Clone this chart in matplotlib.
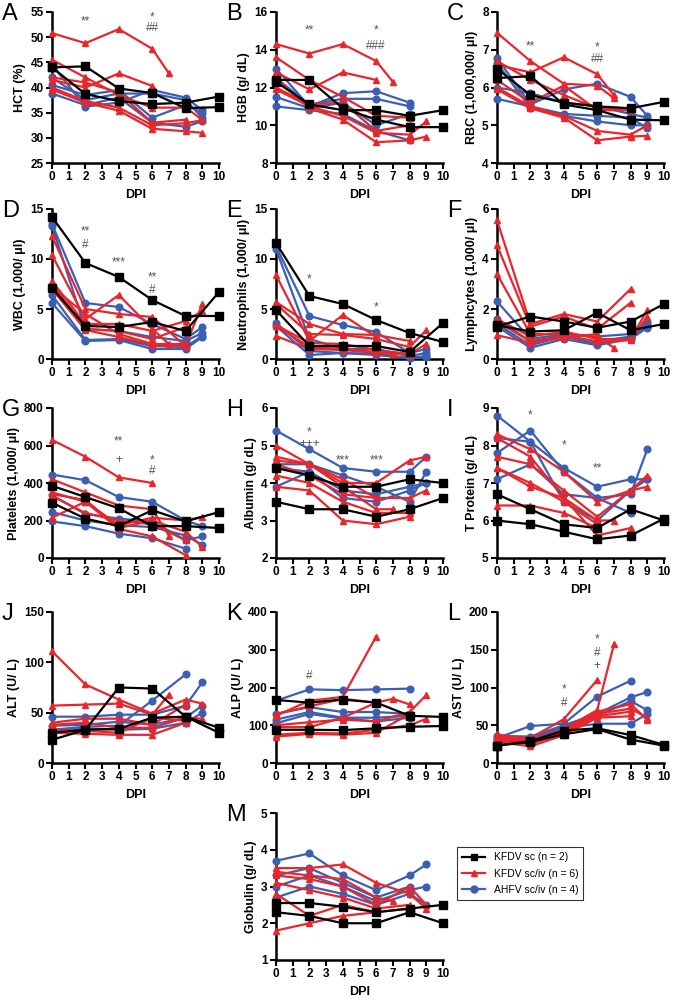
import numpy as np
import matplotlib
matplotlib.use("Agg")
import matplotlib.pyplot as plt
from matplotlib.lines import Line2D

plt.rcParams['font.family'] = ['Liberation Sans', 'DejaVu Sans']

N = np.nan
days = [0, 2, 4, 6, 7, 8, 9, 10]

# ---- A: HCT
hct_sc = [[44.0, 44.2, 39.8, 38.9, N, 35.9, N, 36.1],
          [44.0, 38.7, 37.3, 36.7, N, 37.0, N, 38.2]]
hct_sciv = [[50.8, 48.8, 51.6, 47.7, 42.8, N, N, N],
            [41.5, 40.0, 42.8, 40.3, N, N, N, N],
            [45.5, 42.0, 38.5, 36.0, N, 36.0, 33.6, N],
            [42.0, 41.0, 39.0, 33.0, N, 33.6, N, N],
            [40.0, 37.3, 36.0, 32.5, N, 32.9, 33.5, N],
            [39.6, 37.0, 35.4, 31.8, N, 31.3, 31.0, N]]
hct_ahfv = [[44.5, 36.2, 37.0, 39.5, N, 38.0, 35.5, N],
            [42.0, 37.5, 38.8, 38.8, N, 37.5, 34.0, N],
            [40.5, 38.5, 39.5, 34.0, N, 36.5, 35.0, N],
            [38.8, 36.5, 38.0, 33.0, N, 32.2, 33.3, N]]

# ---- B: HGB
hgb_sc = [[12.4, 12.4, 10.9, 10.3, N, 9.9, N, 9.9],
          [12.3, 11.1, 10.8, 10.8, N, 10.5, N, 10.8]]
hgb_sciv = [[14.3, 13.8, 14.3, 13.4, 12.3, N, N, N],
            [12.8, 11.9, 12.8, 12.4, N, N, N, N],
            [13.6, 12.4, 11.5, 10.5, N, 10.4, N, N],
            [12.0, 11.1, 11.2, 9.7, N, 10.0, N, N],
            [11.9, 11.0, 10.5, 9.6, N, 9.5, 10.2, N],
            [12.5, 10.9, 10.3, 9.1, N, 9.2, 9.4, N]]
hgb_ahfv = [[13.0, 11.0, 11.7, 11.8, N, 11.2, N, N],
            [12.5, 11.1, 11.4, 11.4, N, 11.0, N, N],
            [11.5, 10.9, 11.2, 10.0, N, 10.6, N, N],
            [11.0, 10.8, 10.6, 9.7, N, 9.2, N, N]]

# ---- C: RBC
rbc_sc = [[6.25, 6.3, 5.55, 5.4, N, 5.15, N, 5.13],
          [6.5, 5.8, 5.6, 5.5, N, 5.45, N, 5.62]]
rbc_sciv = [[6.6, 6.4, 6.8, 6.35, 5.8, N, N, N],
            [7.45, 6.7, 6.1, 6.05, 5.72, N, N, N],
            [6.7, 6.2, 5.8, 5.45, N, 5.45, N, N],
            [6.2, 5.6, 6.05, 5.4, N, 5.4, N, N],
            [6.0, 5.5, 5.25, 4.85, N, 4.75, 5.0, N],
            [5.95, 5.45, 5.2, 4.6, N, 4.7, 4.72, N]]
rbc_ahfv = [[6.78, 5.55, 5.95, 6.1, N, 5.75, 5.25, N],
            [6.0, 5.85, 5.6, 5.5, N, 5.3, 5.2, N],
            [5.7, 5.5, 5.3, 5.25, N, 5.2, 4.92, N],
            [6.65, 5.45, 5.25, 5.1, N, 5.0, 5.0, N]]

# ---- D: WBC
wbc_sc = [[14.2, 9.6, 8.2, 5.9, N, 4.3, N, 4.3],
          [7.1, 3.3, 3.2, 3.7, N, 2.8, N, 6.7]]
wbc_sciv = [[12.3, 5.0, 4.5, 4.2, N, 1.3, 5.5, N],
            [10.4, 4.0, 6.4, 3.0, 1.5, N, N, N],
            [7.8, 3.5, 3.5, 2.8, N, 3.8, 4.8, N],
            [7.5, 3.0, 2.8, 2.0, N, 3.2, N, N],
            [7.2, 4.5, 2.5, 1.5, N, 1.5, N, N],
            [7.0, 2.9, 2.2, 1.4, N, 1.3, N, N]]
wbc_ahfv = [[13.5, 5.6, 5.2, 3.5, N, 2.0, 3.2, N],
            [13.3, 3.0, 2.8, 2.2, N, 1.8, 2.6, N],
            [6.4, 1.9, 2.0, 1.3, N, 1.2, 2.3, N],
            [5.6, 1.8, 1.9, 1.0, N, 1.0, 2.2, N]]

# ---- E: Neutrophils
neu_sc = [[11.6, 6.3, 5.5, 3.9, N, 2.6, N, 1.7],
          [4.9, 1.3, 1.3, 1.3, N, 0.7, N, 3.6]]
neu_sciv = [[8.4, 1.8, 4.4, 2.2, N, N, N, N],
            [5.7, 3.5, 2.5, 2.4, N, 1.8, N, N],
            [5.5, 2.5, 2.4, 2.0, N, 1.2, 2.9, N],
            [3.4, 1.6, 1.5, 0.9, N, 0.5, 1.5, N],
            [3.3, 1.2, 1.0, 0.7, N, 0.4, N, N],
            [2.3, 1.0, 0.9, 0.6, 0.5, N, N, N]]
neu_ahfv = [[11.3, 4.3, 3.4, 2.7, N, 0.6, 1.0, N],
            [11.0, 2.0, 1.0, 1.0, N, 0.3, 0.6, N],
            [3.6, 0.8, 0.6, 0.5, N, 0.1, 0.3, N],
            [3.3, 0.4, 0.6, 0.4, N, 0.1, 0.2, N]]

# ---- F: Lymphocytes
lym_sc = [[1.35, 1.1, 1.15, 1.85, N, 1.15, N, 1.4],
          [1.3, 1.7, 1.5, 1.25, N, 1.5, N, 2.2]]
lym_sciv = [[5.55, 1.4, 1.8, 1.5, N, 2.8, N, N],
            [4.55, 1.3, 1.7, 1.2, N, 2.25, N, N],
            [3.4, 1.0, 1.0, 0.9, 0.45, N, N, N],
            [1.6, 0.9, 1.1, 0.8, N, 0.8, 1.95, N],
            [1.5, 0.7, 0.9, 0.7, N, 0.75, 1.7, N],
            [0.95, 0.65, 0.85, 1.0, N, N, N, N]]
lym_ahfv = [[2.3, 0.8, 1.0, 0.9, N, 1.0, 1.5, N],
            [1.6, 0.7, 0.95, 0.7, N, 0.9, 1.4, N],
            [1.4, 0.55, 0.9, 0.6, N, 0.85, 1.3, N],
            [1.3, 0.45, 0.8, 0.55, N, 0.8, 1.25, N]]

# ---- G: Platelets
plt_sc = [[385, 325, 265, 170, N, 170, N, 160],
          [295, 210, 170, 255, N, 195, N, 245]]
plt_sciv = [[630, 540, 430, 400, N, N, N, N],
            [420, 350, 280, 260, 120, N, N, N],
            [350, 300, 175, 215, N, 200, 220, N],
            [340, 310, 160, 200, N, 140, 60, N],
            [330, 240, 200, 180, N, 95, N, N],
            [215, 300, 155, 115, N, 15, N, N]]
plt_ahfv = [[445, 415, 325, 300, N, 200, 170, N],
            [335, 235, 210, 195, N, 95, 115, N],
            [245, 200, 175, 165, N, 120, 70, N],
            [195, 170, 130, 105, N, 50, N, N]]

# ---- H: Albumin
alb_sc = [[4.4, 4.2, 3.9, 3.9, N, 4.1, N, 4.0],
          [3.5, 3.3, 3.3, 3.1, N, 3.3, N, 3.6]]
alb_sciv = [[5.0, 4.5, 4.0, 4.0, N, 4.6, 4.7, N],
            [4.7, 4.5, 4.1, 3.6, N, 3.6, 3.8, N],
            [4.6, 4.5, 3.9, 3.3, 3.3, N, N, N],
            [4.5, 4.2, 3.7, 3.6, N, N, N, N],
            [4.2, 4.0, 3.5, 3.2, N, 3.2, N, N],
            [3.9, 3.8, 3.0, 2.9, N, 3.1, N, N]]
alb_ahfv = [[5.4, 4.9, 4.4, 4.3, N, 4.3, 4.7, N],
            [4.5, 4.5, 4.2, 3.9, N, 3.5, 4.3, N],
            [4.4, 4.3, 3.8, 3.7, N, 3.9, 4.0, N],
            [3.9, 4.3, 3.6, 3.5, N, 3.8, 4.0, N]]

# ---- I: Total protein
tp_sc = [[6.7, 6.3, 5.9, 5.8, N, 6.3, N, 6.0],
         [6.0, 5.9, 5.7, 5.5, N, 5.6, N, 6.05]]
tp_sciv = [[8.3, 7.9, 7.3, 6.5, N, 6.8, 7.2, N],
           [8.2, 7.7, 6.6, 6.0, 6.0, N, N, N],
           [7.7, 7.5, 6.8, 6.1, N, 6.8, 6.9, N],
           [7.4, 7.0, 6.5, 5.9, N, N, N, N],
           [7.4, 6.9, 6.6, 5.6, N, 5.8, N, N],
           [6.4, 6.4, 6.2, 5.8, N, N, N, N]]
tp_ahfv = [[8.8, 8.1, 7.4, 6.9, N, 7.1, 7.1, N],
           [7.8, 8.4, 7.3, 6.6, N, 6.7, 7.9, N],
           [7.1, 7.5, 6.7, 6.6, N, 6.2, N, N],
           [8.2, 8.1, 6.5, 6.0, N, 6.8, 7.1, N]]

# ---- J: ALT
alt_sc = [[23, 33, 75, 74, N, 46, N, 30],
          [30, 33, 34, 45, N, 46, N, 35]]
alt_sciv = [[111, 78, 63, 49, N, 63, 59, N],
            [57, 58, 59, 48, 68, N, N, N],
            [40, 44, 44, 38, N, 58, N, N],
            [38, 40, 35, 35, N, 45, 44, N],
            [33, 32, 30, 45, N, 42, N, N],
            [30, 29, 28, 28, N, 40, N, N]]
alt_ahfv = [[33, 36, 37, 62, N, 88, N, N],
            [46, 46, 48, 48, N, 57, 80, N],
            [37, 38, 41, 38, N, 45, 57, N],
            [32, 34, 33, 34, N, 40, 50, N]]

# ---- K: ALP
alp_sc = [[167, 160, 168, 160, N, 125, N, 122],
          [88, 88, 87, 92, N, 96, N, 98]]
alp_sciv = [[125, 165, 175, 335, N, N, N, N],
            [130, 150, 170, 160, 170, 155, N, N],
            [100, 108, 115, 110, N, 135, 180, N],
            [95, 95, 120, 160, N, N, N, N],
            [75, 80, 78, 88, N, 100, 117, N],
            [70, 77, 75, 80, N, 130, N, N]]
alp_ahfv = [[165, 195, 193, 195, N, 197, N, N],
            [130, 148, 135, 135, N, 130, N, N],
            [115, 135, 120, 120, N, 125, N, N],
            [105, 130, 118, 110, N, 120, N, N]]

# ---- L: AST
ast_sc = [[23, 28, 38, 45, N, 31, N, 23],
          [23, 29, 43, 46, N, 37, N, 24]]
ast_sciv = [[36, 33, 58, 110, N, N, N, N],
            [38, 30, 45, 70, 157, N, N, N],
            [35, 28, 44, 68, N, 78, 57, N],
            [33, 27, 42, 65, N, 72, 60, N],
            [30, 25, 40, 62, N, 68, N, N],
            [28, 22, 37, 60, N, 62, N, N]]
ast_ahfv = [[33, 49, 52, 88, N, 109, N, N],
            [36, 35, 50, 65, N, 87, 94, N],
            [30, 33, 48, 62, N, 82, 70, N],
            [28, 31, 46, 52, N, 52, 65, N]]

# ---- M: Globulin
glob_sc = [[2.55, 2.55, 2.45, 2.3, N, 2.4, N, 2.5],
           [2.3, 2.2, 2.0, 2.0, N, 2.3, N, 2.0]]
glob_sciv = [[3.5, 3.5, 3.6, 3.1, N, 2.8, 2.4, N],
             [3.4, 3.3, 3.2, 2.7, 2.6, N, N, N],
             [3.3, 3.2, 3.0, 2.5, N, 3.0, 2.5, N],
             [3.1, 2.9, 2.7, 2.4, N, 2.5, N, N],
             [2.8, 2.2, 2.5, 2.3, N, 2.4, N, N],
             [1.8, 2.0, 2.2, 2.3, N, N, N, N]]
glob_ahfv = [[3.7, 3.9, 3.3, 2.9, N, 3.3, 3.6, N],
             [3.3, 3.5, 3.1, 2.7, N, 3.0, N, N],
             [3.0, 3.3, 3.0, 2.6, N, 2.9, 3.0, N],
             [2.7, 3.0, 2.8, 2.5, N, 2.8, 2.5, N]]

ylabels = ['HCT (%)', 'HGB (g/ dL)', 'RBC (1,000,000/ \u03bcl)',
           'WBC (1,000/ \u03bcl)', 'Neutrophils (1,000/ \u03bcl)', 'Lymphcytes (1,000/ \u03bcl)',
           'Platelets (1,000/ \u03bcl)', 'Albumin (g/ dL)', 'T Protein (g/ dL)',
           'ALT (U/ L)', 'ALP (U/ L)', 'AST (U/ L)', 'Globulin (g/ dL)']
letters = list('ABCDEFGHIJKLM')
groups = [(hct_sc, hct_sciv, hct_ahfv), (hgb_sc, hgb_sciv, hgb_ahfv), (rbc_sc, rbc_sciv, rbc_ahfv),
          (wbc_sc, wbc_sciv, wbc_ahfv), (neu_sc, neu_sciv, neu_ahfv), (lym_sc, lym_sciv, lym_ahfv),
          (plt_sc, plt_sciv, plt_ahfv), (alb_sc, alb_sciv, alb_ahfv), (tp_sc, tp_sciv, tp_ahfv),
          (alt_sc, alt_sciv, alt_ahfv), (alp_sc, alp_sciv, alp_ahfv), (ast_sc, ast_sciv, ast_ahfv),
          (glob_sc, glob_sciv, glob_ahfv)]
yticks = [np.arange(25, 56, 5), np.arange(8, 17, 2), np.arange(4, 9, 1),
          np.arange(0, 16, 5), np.arange(0, 16, 5), np.arange(0, 7, 2),
          np.arange(0, 801, 200), np.arange(2, 7, 1), np.arange(5, 10, 1),
          np.arange(0, 151, 50), np.arange(0, 401, 100), np.arange(0, 201, 50),
          np.arange(1, 6, 1)]
# significance marks: (day, y, text)
marks = {
    'A': [(2, 53.2, '**'), (6, 54.0, '*'), (6, 51.8, '##')],
    'B': [(2, 15.0, '**'), (6, 15.0, '*'), (6, 14.2, '###')],
    'C': [(2, 7.1, '**'), (6, 7.05, '*'), (6, 6.75, '##')],
    'D': [(2, 12.8, '**'), (2, 11.4, '#'), (4, 9.7, '***'), (6, 8.2, '**'), (6, 6.9, '#')],
    'E': [(2, 8.0, '*'), (6, 5.2, '*')],
    'G': [(4, 620, '**'), (4, 520, '+'), (6, 520, '*'), (6, 465, '#')],
    'H': [(2, 5.35, '*'), (2, 5.05, '+++'), (4, 4.6, '***'), (6, 4.6, '***')],
    'I': [(2, 8.8, '*'), (4, 8.0, '*'), (6, 7.4, '**')],
    'K': [(2, 230, '#')],
    'L': [(4, 97, '*'), (4, 80, '#'), (6, 163, '*'), (6, 146, '#'), (6, 128, '+')],
}

W, H = 673, 1001
red = '#e8262b'
blue = '#3b5fb3'
col_left = [52, 276, 497]
row_top = [12, 209, 408, 612, 813]
row_bot = [163, 359, 558, 763, 960]

fig = plt.figure(figsize=(W / 100, H / 100), dpi=100)

for i in range(13):
    if i < 12:
        r, c = divmod(i, 3)
    else:
        r, c = 4, 1
    x0 = col_left[c]
    ax = fig.add_axes([x0 / W, 1 - row_bot[r] / H, 167 / W, (row_bot[r] - row_top[r]) / H])
    sc, sciv, ahfv = groups[i]
    for series, color, mk, ms in [(ahfv, blue, 'o', 4.8), (sciv, red, '^', 4.8), (sc, 'black', 's', 5.2)]:
        for s in series:
            y = np.array(s, dtype=float)
            ok = ~np.isnan(y)
            ax.plot(np.array(days)[ok], y[ok], color=color, marker=mk, markersize=ms,
                    linewidth=1.6, clip_on=False, zorder=3)
    ax.set_xlim(0, 10)
    ax.set_xticks(range(11))
    ax.set_yticks(yticks[i])
    ax.set_ylim(yticks[i][0], yticks[i][-1])
    for sp in ['top', 'right']:
        ax.spines[sp].set_visible(False)
    for sp in ['left', 'bottom']:
        ax.spines[sp].set_linewidth(1.8)
    ax.tick_params(direction='out', length=4, width=1.5, labelsize=8.5, pad=2)
    for lab in ax.get_xticklabels() + ax.get_yticklabels():
        lab.set_fontweight('bold')
    ax.set_xlabel('DPI', fontsize=9, fontweight='bold', labelpad=4)
    ax.set_ylabel(ylabels[i], fontsize=9, fontweight='bold', labelpad=3)
    for (dx, dy, t) in marks.get(letters[i], []):
        ax.text(dx, dy, t, ha='center', va='center', fontsize=8.5, color='#555555')
    fig.text((x0 - 50) / W, 1 - (row_top[r] - 9) / H, letters[i], fontsize=17,
             va='top', ha='left')

handles = [Line2D([], [], color='black', marker='s', markersize=5, linewidth=1.6),
           Line2D([], [], color=red, marker='^', markersize=5, linewidth=1.6),
           Line2D([], [], color=blue, marker='o', markersize=5, linewidth=1.6)]
leg = fig.legend(handles, ['KFDV sc (n = 2)', 'KFDV sc/iv (n = 6)', 'AHFV sc/iv (n = 4)'],
                 loc='upper left', bbox_to_anchor=(452 / W, 1 - 842 / H), fontsize=7.5,
                 frameon=True, fancybox=False, edgecolor='black', handlelength=2.2,
                 borderpad=0.5, labelspacing=0.6)
leg.get_frame().set_linewidth(0.8)

fig.savefig('out.png', dpi=100)
